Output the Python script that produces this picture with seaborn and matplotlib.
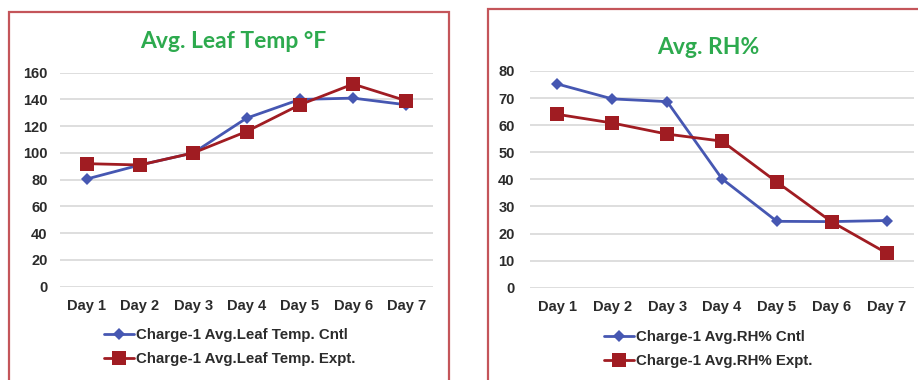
import matplotlib
matplotlib.use("Agg")
import matplotlib.pyplot as plt
import seaborn as sns
import pandas as pd
from matplotlib.patches import Rectangle

days = ["Day 1", "Day 2", "Day 3", "Day 4", "Day 5", "Day 6", "Day 7"]
temp_cntl = [80.5, 91, 100, 126, 140, 141, 136]
temp_expt = [92, 91, 100, 116, 136, 151.5, 139]
rh_cntl = [75.2, 69.7, 68.7, 40.2, 24.5, 24.4, 24.8]
rh_expt = [64, 60.8, 56.7, 54.1, 39, 24.3, 12.8]

temp_labels = ["Charge-1 Avg.Leaf Temp. Cntl", "Charge-1 Avg.Leaf Temp. Expt."]
rh_labels = ["Charge-1 Avg.RH% Cntl", "Charge-1 Avg.RH% Expt."]

BLUE = "#4657B2"
RED = "#A01C22"
GREEN = "#2DAA4E"
BORDER = "#C4555A"
TXT = "#2B2B2B"

sns.set_theme(style="white")
plt.rcParams["font.family"] = ["Liberation Sans", "DejaVu Sans"]

fig = plt.figure(figsize=(9.18, 3.8), dpi=100)
W, H = 918, 380

def fx(x):
    return x / W

def fy(y):
    return 1 - y / H

# panel borders
fig.patches.append(Rectangle((fx(9), fy(385)), fx(449 - 9), (385 - 12) / H,
                             transform=fig.transFigure, fill=False,
                             edgecolor=BORDER, lw=1.6))
fig.patches.append(Rectangle((fx(488), fy(385)), fx(440), (385 - 9) / H,
                             transform=fig.transFigure, fill=False,
                             edgecolor=BORDER, lw=1.6))

def make_panel(rect, cntl, expt, labels, ymax, step, title, title_xy, leg_xy, ypad):
    ax = fig.add_axes(rect)
    df = pd.DataFrame({
        "day": days * 2,
        "x": list(range(len(days))) * 2,
        "value": list(cntl) + list(expt),
        "series": [labels[0]] * len(days) + [labels[1]] * len(days),
    })
    sns.lineplot(data=df, x="x", y="value", hue="series", style="series",
                 palette=[BLUE, RED], markers=["D", "s"], dashes=False,
                 linewidth=2.0, markersize=8, markeredgewidth=0, ax=ax,
                 legend=True)
    for ln in ax.lines:
        if ln.get_marker() == "D":
            ln.set_markersize(6.5)
        elif ln.get_marker() == "s":
            ln.set_markersize(9.5)
    ax.set_xlim(-0.5, 6.5)
    ax.set_ylim(0, ymax)
    ax.set_yticks(range(0, ymax + 1, step))
    ax.set_xticks(range(len(days)))
    ax.set_xticklabels(days)
    ax.set_xlabel("")
    ax.set_ylabel("")
    ax.grid(axis="y", color="#D4D4D4", lw=1.1)
    ax.set_axisbelow(True)
    for s in ax.spines.values():
        s.set_visible(False)
    ax.tick_params(axis="both", length=0, labelsize=10.5, colors=TXT)
    ax.tick_params(axis="x", pad=9)
    ax.tick_params(axis="y", pad=ypad)
    for t in ax.get_xticklabels() + ax.get_yticklabels():
        t.set_fontweight("bold")
    handles, lbls = ax.get_legend_handles_labels()
    ax.get_legend().remove()
    for h in handles:
        if h.get_marker() == "D":
            h.set_markersize(6.5)
        else:
            h.set_markersize(9.5)
    fig.legend(handles, lbls, loc="center", bbox_to_anchor=leg_xy,
               bbox_transform=fig.transFigure, frameon=False,
               prop={"weight": "bold", "size": 10.8}, labelcolor=TXT,
               handlelength=2.0, handletextpad=0.1, labelspacing=0.7)
    fig.text(title_xy[0], title_xy[1], title, ha="center", va="center",
             color=GREEN, fontsize=16.5, fontweight="bold",
             family=["Lato", "DejaVu Sans"])
    return ax

make_panel([fx(60), fy(286.7), fx(433 - 60), (286.7 - 72.7) / H],
           temp_cntl, temp_expt, temp_labels, 160, 20,
           "Avg. Leaf Temp °F", (fx(233), fy(42)), (fx(230), fy(347)), 9)

make_panel([fx(530), fy(287.7), fx(914 - 530), (287.7 - 71) / H],
           rh_cntl, rh_expt, rh_labels, 80, 10,
           "Avg. RH%", (fx(708), fy(47)), (fx(708), fy(349)), 11)

fig.savefig("out.png", dpi=100)
